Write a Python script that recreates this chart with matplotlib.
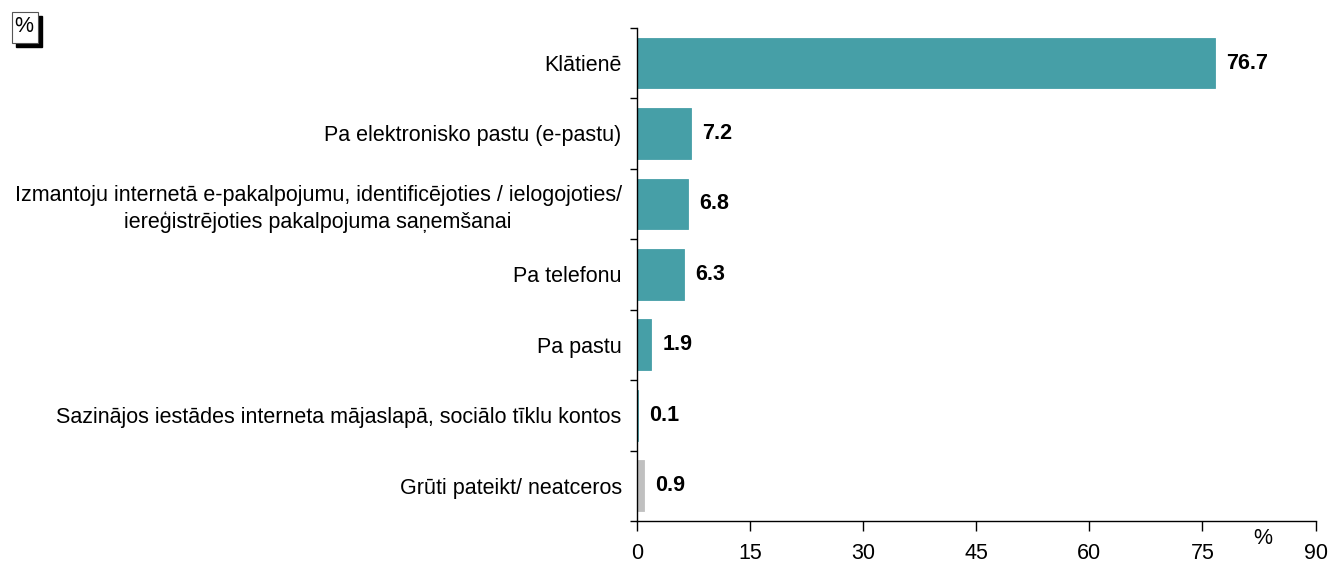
import matplotlib.pyplot as plt
import numpy as np
from matplotlib.patches import Rectangle

plt.rcParams['font.family'] = ['Liberation Sans', 'DejaVu Sans']

categories = ['Klātienē',
              'Pa elektronisko pastu (e-pastu)',
              'Izmantoju internetā e-pakalpojumu, identificējoties / ielogojoties/\n'
              'iereģistrējoties pakalpojuma saņemšanai',
              'Pa telefonu',
              'Pa pastu',
              'Sazinājos iestādes interneta mājaslapā, sociālo tīklu kontos',
              'Grūti pateikt/ neatceros']
values = [76.7, 7.2, 6.8, 6.3, 1.9, 0.1, 0.9]
value_labels = ['76.7', '7.2', '6.8', '6.3', '1.9', '0.1', '0.9']
xticks = [0, 15, 30, 45, 60, 75, 90]

teal = '#469fa7'
grey = '#c0c0c0'
colors = [teal] * 6 + [grey]
fs = 15.5

fig = plt.figure(figsize=(13.41, 5.63), dpi=100)
ax = fig.add_axes([0.475, 0.0746, 0.506, 0.876])

y = np.arange(len(categories))
ax.barh(y, values, height=0.72, color=colors, edgecolor=colors, linewidth=0.6)
ax.set_ylim(len(categories) - 0.5, -0.5)
ax.set_xlim(0, 90)

for yi, v, lab in zip(y, values, value_labels):
    ax.annotate(lab, (v, yi), xytext=(8, 0), textcoords='offset points',
                va='center', ha='left', fontsize=fs, fontweight='bold')

# category labels, boundaries as ticks
ax.set_yticks(y)
ax.set_yticklabels(categories, fontsize=fs)
for t in ax.get_yticklabels():
    t.set_multialignment('center')
    t.set_linespacing(1.35)
ax.tick_params(axis='y', which='major', length=0, pad=11)
ax.set_yticks(np.arange(-0.5, len(categories), 1), minor=True)
ax.tick_params(axis='y', which='minor', length=5, direction='out', width=1)

ax.set_xticks(xticks)
ax.set_xticklabels([str(t) for t in xticks], fontsize=fs)
ax.tick_params(axis='x', length=7, direction='out', width=1, pad=9)

for s in ['top', 'right']:
    ax.spines[s].set_visible(False)
for s in ['left', 'bottom']:
    ax.spines[s].set_linewidth(1)
    ax.spines[s].set_color('black')

ax.text(0.9215, -0.015, '%', transform=ax.transAxes, fontsize=fs, ha='center', va='top')

# "%" box with shadow in the corner
fig.patches.append(Rectangle((16 / 1341, 1 - 47 / 563), 26 / 1341, 31 / 563,
                             transform=fig.transFigure, facecolor='black', edgecolor='black'))
fig.patches.append(Rectangle((12 / 1341, 1 - 43 / 563), 26 / 1341, 31 / 563,
                             transform=fig.transFigure, facecolor='white', edgecolor='#555555',
                             linewidth=0.8))
fig.text(24 / 1341, 1 - 26 / 563, '%', fontsize=fs, ha='center', va='center')

fig.savefig('out.png', dpi=100)
